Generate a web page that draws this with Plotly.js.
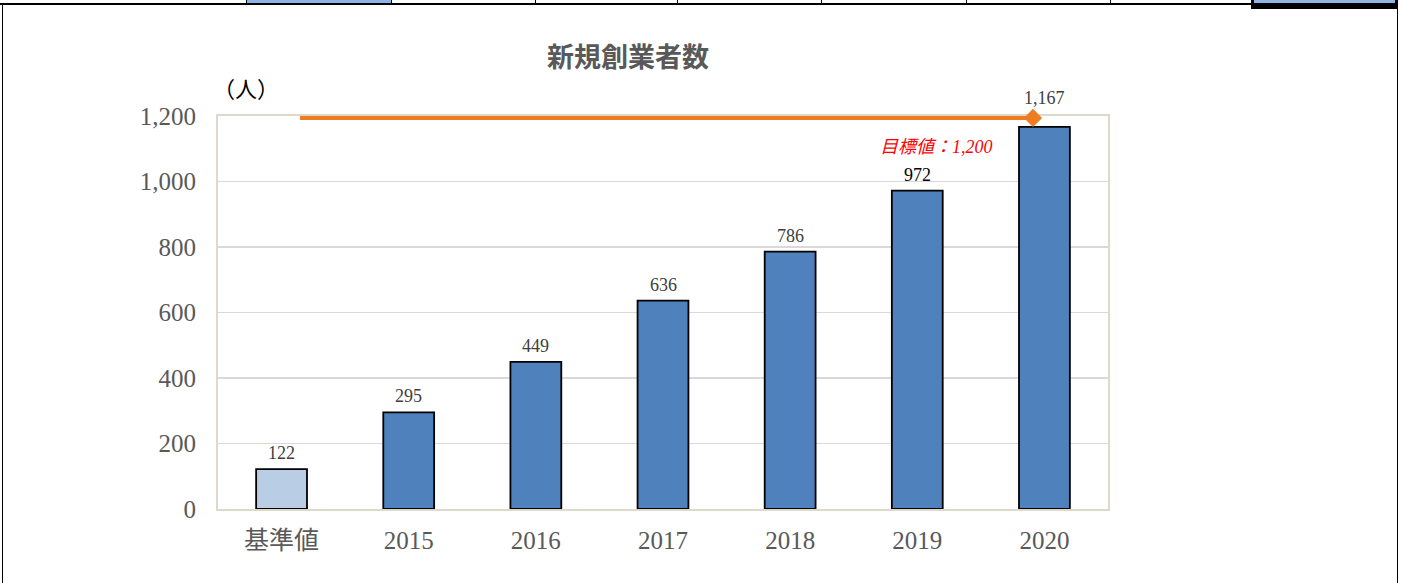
<!DOCTYPE html>
<html><head><meta charset="utf-8">
<script src="https://cdn.plot.ly/plotly-3.0.1.min.js"></script>
<style>
html,body{margin:0;padding:0;background:#fff;width:1403px;height:583px;overflow:hidden;position:relative}
#chart{position:absolute;left:0;top:0;width:1403px;height:583px}
.ln{position:absolute;background:#000}
.cell{position:absolute;background:#8EB4E3}
</style></head>
<body>
<div id="chart"></div>
<div class="cell" style="left:247px;top:0;width:144px;height:3px"></div>
<div class="cell" style="left:1253px;top:0;width:143px;height:4px"></div>
<div class="ln" style="left:0;top:3px;width:1398px;height:2px"></div>
<div class="ln" style="left:246px;top:0;width:1px;height:4px"></div>
<div class="ln" style="left:391px;top:0;width:1px;height:4px"></div>
<div class="ln" style="left:535px;top:0;width:1px;height:4px"></div>
<div class="ln" style="left:677px;top:0;width:1px;height:4px"></div>
<div class="ln" style="left:821px;top:0;width:1px;height:4px"></div>
<div class="ln" style="left:966px;top:0;width:1px;height:4px"></div>
<div class="ln" style="left:1110px;top:0;width:1px;height:4px"></div>
<div class="ln" style="left:1251px;top:0;width:3px;height:9px"></div>
<div class="ln" style="left:1395px;top:0;width:3px;height:9px"></div>
<div class="ln" style="left:1251px;top:5px;width:147px;height:4px"></div>
<div class="ln" style="left:2px;top:3px;width:1px;height:580px"></div>
<div class="ln" style="left:1397px;top:3px;width:1px;height:580px"></div>
<script>
const categories = ["基準値","2015","2016","2017","2018","2019","2020"];
const values = [122, 295, 449, 636, 786, 972, 1167];
const barColors = ["#B9CDE5","#4F81BD","#4F81BD","#4F81BD","#4F81BD","#4F81BD","#4F81BD"];
const targetValues = [1200, 1200, 1200, 1200, 1200, 1200, 1200];
const targetLabel = "目標値：1,200";
const titleText = "新規創業者数";
const unitText = "（人）";

const serif = '"Liberation Serif", "DejaVu Serif", "Noto Sans CJK JP", serif';
const fmt = v => v.toLocaleString('en-US');
const idx = categories.map((c,i)=>i);

const traces = [
  {type:'bar', x:idx, y:values, width:0.4,
   marker:{color:barColors, line:{color:'#000', width:1.8}},
   hoverinfo:'skip', showlegend:false},
  {type:'scatter', mode:'lines', x:idx, y:targetValues, xaxis:'x2', yaxis:'y2', cliponaxis:false,
   line:{color:'#EE7D22', width:4}, hoverinfo:'skip', showlegend:false},
  {type:'scatter', mode:'markers', x:[idx[idx.length-1]], cliponaxis:false,
   y:[targetValues[targetValues.length-1]], xaxis:'x2', yaxis:'y2',
   marker:{symbol:'diamond', size:14, color:'#EE7D22'}, hoverinfo:'skip', showlegend:false}
];

const annotations = values.map((v,i)=>({
  x:i, y:v, xref:'x', yref:'y', text:fmt(v), showarrow:false,
  yanchor:'bottom', yshift: i===values.length-1 ? 17 : 4,
  font:{family:serif, size:18, color: i===5 ? '#000' : '#404040'}
}));
annotations.push({x:(936-218)/890, y:(509-147)/393, xref:'paper', yref:'paper', text:targetLabel,
  showarrow:false, xanchor:'center', yanchor:'middle',
  font:{family:serif, size:18, color:'#FF0000', style:'italic'}});
annotations.push({text:unitText, xref:'paper', yref:'paper', showarrow:false,
  x:(246-218)/890, y:1+(116-90)/393, xanchor:'center', yanchor:'middle',
  font:{family:serif, size:22, color:'#000'}});

const layout = {
  width:1403, height:583,
  margin:{l:218, r:295, t:116, b:74},
  paper_bgcolor:'rgba(0,0,0,0)', plot_bgcolor:'#fff',
  title:{text:titleText, x:628/1403, xref:'container', xanchor:'center',
    y:1-58/583, yref:'container', yanchor:'middle',
    font:{family:'"Noto Sans CJK JP", sans-serif', size:27, color:'#595959', weight:'bold'}},
  xaxis:{type:'linear', range:[-0.5,6.5], tickmode:'array', tickvals:idx, ticktext:categories,
    showgrid:false, zeroline:false, layer:'below traces',
    showline:true, linecolor:'#DDDACB', linewidth:2, mirror:true,
    ticks:'', ticklabelstandoff:8,
    tickfont:{family:serif, size:25, color:'#595959'}},
  xaxis2:{type:'linear', overlaying:'x', range:[-0.671, 6.614], visible:false},
  yaxis:{range:[0,1200], dtick:200, tickformat:',', showgrid:true, gridcolor:'#D9D9D9', gridwidth:1.5,
    zeroline:false, showline:true, linecolor:'#DDDACB', linewidth:2, mirror:true, layer:'below traces',
    ticks:'', ticklabelstandoff:15,
    tickfont:{family:serif, size:25, color:'#595959'}},
  yaxis2:{overlaying:'y', range:[0,1206], visible:false},
  annotations:annotations, showlegend:false
};
Plotly.newPlot('chart', traces, layout, {displayModeBar:false, staticPlot:true});
</script>
</body></html>
